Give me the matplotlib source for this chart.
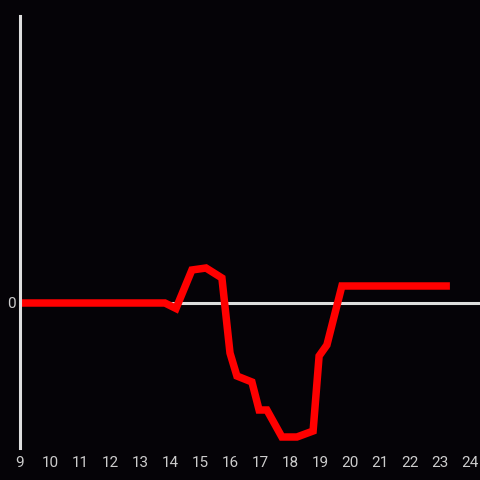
import matplotlib.pyplot as plt

# hours of the day and signal level (arbitrary units)
hours = [9.0, 13.83, 14.2, 14.73, 15.2, 15.73, 16.0, 16.23, 16.73, 16.97,
         17.23, 17.73, 18.23, 18.77, 18.97, 19.23, 19.73, 23.33]
level = [0.0, 0.0, -0.55, 3.3, 3.5, 2.5, -5.0, -7.3, -7.9, -10.7,
         -10.7, -13.4, -13.4, -12.8, -5.3, -4.2, 1.7, 1.7]

x_ticks = list(range(9, 25))

BG = "#050307"
AXIS = "#dedede"

plt.rcParams["font.family"] = ["Roboto", "DejaVu Sans"]

fig = plt.figure(figsize=(4.8, 4.8), dpi=100, facecolor=BG)
ax = fig.add_axes([20 / 480, 32 / 480, 460 / 480, 432 / 480], facecolor=BG)

ax.axhline(0, color=AXIS, lw=2.2, zorder=1)
ax.plot(hours, level, color="#ff0000", lw=5.4, solid_joinstyle="miter",
        solid_capstyle="butt", zorder=2)

ax.set_xlim(9, 9 + 460 / 30)
ax.set_ylim(-14.5, 28.7)

for s in ["top", "right", "bottom"]:
    ax.spines[s].set_visible(False)
ax.spines["left"].set_color(AXIS)
ax.spines["left"].set_linewidth(2.2)

ax.set_xticks(x_ticks)
ax.set_xticklabels([str(t) for t in x_ticks])
ax.set_yticks([0])
ax.set_yticklabels(["0"])
ax.tick_params(axis="both", length=0, colors="#cccccc", labelsize=11)
ax.tick_params(axis="x", pad=6)
ax.tick_params(axis="y", pad=3)

fig.savefig("out.png", dpi=100, facecolor=BG)
